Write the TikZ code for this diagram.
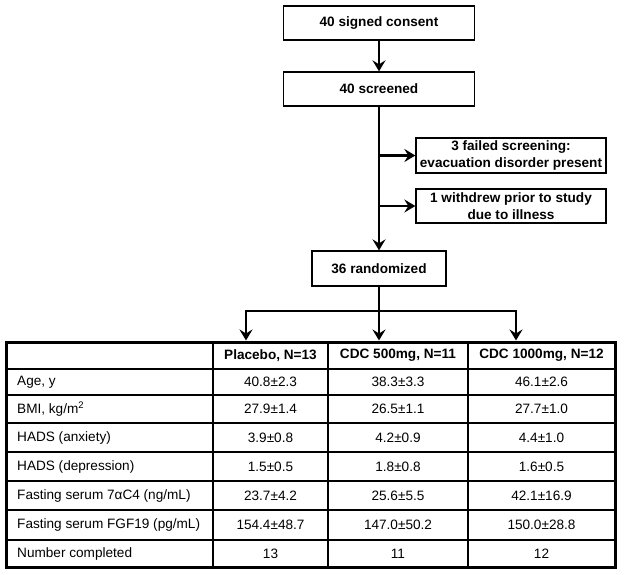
\documentclass[tikz,border=0pt]{standalone}
\usepackage{fontspec}
\setmainfont{Liberation Sans}
\usetikzlibrary{arrows.meta}
\begin{document}
\begin{tikzpicture}[x=1pt,y=-1pt,
  fbox/.style={draw=black,line width=1.3pt,font=\fontsize{13.6}{16.5}\selectfont\bfseries,align=center,inner sep=0pt},
  conn/.style={line width=2.8pt,draw=black},
  arr/.style={conn,-{Stealth[length=11pt,width=13pt,inset=4pt]}},
  cell/.style={font=\fontsize{13.6}{16}\selectfont,inner sep=0pt},
  hcell/.style={cell,font=\fontsize{13.6}{16}\selectfont\bfseries}]
\useasboundingbox (0,0) rectangle (624,574);
% flow boxes
\node[fbox,minimum width=191pt,minimum height=34pt] (consent) at (379,23) {40 signed consent};
\node[fbox,minimum width=191pt,minimum height=34pt] (screened) at (379,89) {40 screened};
\node[fbox,minimum width=190pt,minimum height=35pt] (failed) at (511,155.5) {3 failed screening:\\evacuation disorder present};
\node[fbox,minimum width=190pt,minimum height=34pt] (withdrew) at (511,206) {1 withdrew prior to study\\due to illness};
\node[fbox,minimum width=134pt,minimum height=35pt] (random) at (379,268.5) {36 randomized};
% connectors
\draw[arr] (consent.south) -- (screened.north);
\draw[arr] (screened.south) -- (random.north);
\draw[arr] (failed.west -| screened.south) -- (failed.west);
\draw[arr] (withdrew.west -| screened.south) -- (withdrew.west);
\coordinate (br) at (379,311);
\coordinate (bl) at (246,311);
\coordinate (bre) at (516,311);
\coordinate (t1) at (246,340.5);
\coordinate (t2) at (379,340.5);
\coordinate (t3) at (516,340.5);
\draw[conn] (random.south) -- (br);
\draw[conn,line cap=rect] (bl) -- (bre);
\draw[arr] (bl) -- (t1);
\draw[arr] (br) -- (t2);
\draw[arr] (bre) -- (t3);
% table grid
\foreach \y in {369,395,423,452,481,510,540} \draw[line width=1.2pt] (6,\y) -- (615,\y);
\foreach \x in {213,328,468} \draw[line width=1.2pt] (\x,342) -- (\x,567);
\draw[line width=3pt] (6,342) rectangle (615,567);
% header
\node[hcell] (h1) at (270.5,355.5) {Placebo, N=13};
\node[hcell] (h2) at (398,355.5) {CDC 500mg, N=11};
\node[hcell] (h3) at (541.5,355.5) {CDC 1000mg, N=12};
% rows
\node[cell,anchor=west] (r1) at (17,382) {Age, y};
\node[cell] at (270.5,382) {40.8±2.3};
\node[cell] at (398,382) {38.3±3.3};
\node[cell] at (541.5,382) {46.1±2.6};
\node[cell,anchor=west] (r2) at (17,409) {BMI, kg/m\textsuperscript{2}};
\node[cell] at (270.5,409) {27.9±1.4};
\node[cell] at (398,409) {26.5±1.1};
\node[cell] at (541.5,409) {27.7±1.0};
\node[cell,anchor=west] (r3) at (17,437.5) {HADS (anxiety)};
\node[cell] at (270.5,437.5) {3.9±0.8};
\node[cell] at (398,437.5) {4.2±0.9};
\node[cell] at (541.5,437.5) {4.4±1.0};
\node[cell,anchor=west] (r4) at (17,466.5) {HADS (depression)};
\node[cell] at (270.5,466.5) {1.5±0.5};
\node[cell] at (398,466.5) {1.8±0.8};
\node[cell] at (541.5,466.5) {1.6±0.5};
\node[cell,anchor=west] (r5) at (17,495.5) {Fasting serum 7αC4 (ng/mL)};
\node[cell] at (270.5,495.5) {23.7±4.2};
\node[cell] at (398,495.5) {25.6±5.5};
\node[cell] at (541.5,495.5) {42.1±16.9};
\node[cell,anchor=west] (r6) at (17,525) {Fasting serum FGF19 (pg/mL)};
\node[cell] at (270.5,525) {154.4±48.7};
\node[cell] at (398,525) {147.0±50.2};
\node[cell] at (541.5,525) {150.0±28.8};
\node[cell,anchor=west] (r7) at (17,553.5) {Number completed};
\node[cell] at (270.5,553.5) {13};
\node[cell] at (398,553.5) {11};
\node[cell] at (541.5,553.5) {12};
\end{tikzpicture}
\end{document}
